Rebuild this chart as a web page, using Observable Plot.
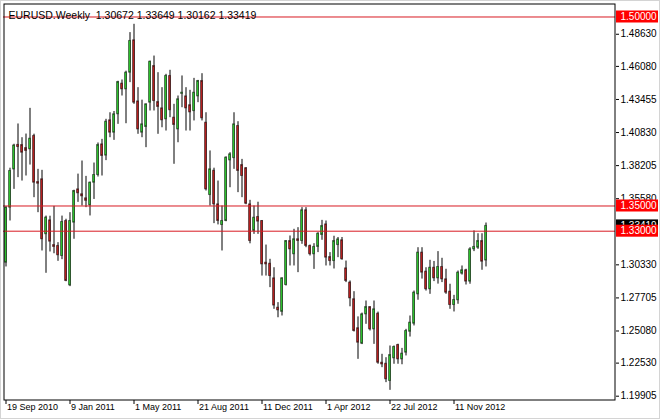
<!DOCTYPE html>
<html><head><meta charset="utf-8">
<script src="https://cdn.jsdelivr.net/npm/d3@7"></script>
<script src="https://cdn.jsdelivr.net/npm/@observablehq/plot@0.6"></script>
<style>
html,body{margin:0;padding:0;background:#fff;}
#chart{width:660px;height:419px;position:relative;overflow:hidden;}
#chart svg{display:block;}
#chart::after{content:"";position:absolute;left:0;top:0;right:0;bottom:0;border:1px solid #d4d4d4;pointer-events:none;}
</style></head><body><div id="chart"></div>
<script>
const symbol = "EURUSD.Weekly";
const firstWeek = "2010-09-19";
const open = [1.3050,1.3487,1.3790,1.3985,1.3984,1.3960,1.3950,1.4056,1.3690,1.3712,
1.3276,1.3386,1.3190,1.3183,1.3103,1.3381,1.2870,1.3368,1.3632,1.3593,
1.3561,1.3505,1.3685,1.3746,1.3989,1.3900,1.4180,1.4082,1.4228,1.4471,
1.4426,1.4558,1.4815,1.4330,1.4082,1.4127,1.4320,1.4611,1.4325,1.4275,
1.4188,1.4532,1.4201,1.4108,1.4390,1.4370,1.4300,1.4253,1.4370,1.4492,
1.4161,1.3587,1.3780,1.3513,1.3349,1.3381,1.3862,1.3880,1.4135,1.3825,
1.3800,1.3513,1.3302,1.3413,1.3381,1.3050,1.3042,1.2926,1.2693,1.2660,
1.2873,1.3222,1.3117,1.3236,1.3222,1.3466,1.3183,1.3117,1.3175,1.3270,
1.3354,1.3095,1.3063,1.3190,1.3228,1.3005,1.2892,1.2760,1.2530,1.2407,
1.2640,1.2698,1.2521,1.2645,1.2256,1.2248,1.2111,1.2291,1.2397,1.2283,
1.2336,1.2502,1.2566,1.2799,1.3130,1.2979,1.2839,1.3010,1.2926,1.3016,
1.2918,1.2820,1.2714,1.2752,1.2963,1.2990,1.2900,1.3156,1.3169,1.3222,
1.30672];
const high = [1.3495,1.3800,1.3990,1.4151,1.4042,1.4071,1.4275,1.4070,1.3791,1.3783,
1.3420,1.3419,1.3497,1.3209,1.3420,1.3395,1.3447,1.3625,1.3753,1.3857,
1.3735,1.3690,1.3841,1.4000,1.4029,1.4188,1.4240,1.4250,1.4490,1.4500,
1.4570,1.4876,1.4942,1.4439,1.4340,1.4310,1.4650,1.4690,1.4558,1.4439,
1.4545,1.4577,1.4307,1.4373,1.4532,1.4439,1.4418,1.4513,1.4497,1.4550,
1.4240,1.3937,1.3800,1.3698,1.3500,1.3890,1.3923,1.4240,1.4169,1.3870,
1.3805,1.3545,1.3500,1.3530,1.3385,1.3190,1.3077,1.3010,1.2733,1.2930,
1.3225,1.3262,1.3315,1.3328,1.3487,1.3487,1.3190,1.3201,1.3288,1.3386,
1.3381,1.3130,1.3260,1.3250,1.3250,1.3063,1.2905,1.2820,1.2620,1.2650,
1.2746,1.2700,1.2746,1.2658,1.2323,1.2296,1.2389,1.2389,1.2403,1.2370,
1.2521,1.2627,1.2825,1.3169,1.3169,1.3010,1.3069,1.3060,1.3138,1.3085,
1.2998,1.2879,1.2791,1.2984,1.3024,1.2998,1.3169,1.3302,1.3280,1.3280,
1.33649];
const low = [1.3016,1.3381,1.3632,1.3725,1.3698,1.3738,1.3825,1.3566,1.3447,1.3143,
1.2966,1.3135,1.3121,1.3061,1.3074,1.2899,1.2860,1.3236,1.3529,1.3500,
1.3487,1.3421,1.3552,1.3730,1.3738,1.3860,1.4042,1.4021,1.4148,1.4373,
1.4153,1.4479,1.4307,1.4069,1.4042,1.3963,1.4254,1.4254,1.4069,1.4121,
1.4095,1.4201,1.3831,1.4002,1.4280,1.4095,1.4095,1.4175,1.4320,1.4175,
1.3619,1.3500,1.3360,1.3350,1.3143,1.3375,1.3645,1.3791,1.3606,1.3566,
1.3510,1.3200,1.3275,1.3275,1.2944,1.2944,1.2852,1.2680,1.2613,1.2627,
1.2865,1.3024,1.3024,1.2971,1.3196,1.3169,1.3103,1.2997,1.3130,1.3228,
1.3024,1.3024,1.3000,1.3090,1.3070,1.2892,1.2700,1.2500,1.2283,1.2400,
1.2561,1.2508,1.2402,1.2244,1.2217,1.2098,1.2037,1.2244,1.2244,1.2240,
1.2310,1.2460,1.2548,1.2752,1.2920,1.2825,1.2799,1.2900,1.2880,1.2892,
1.2799,1.2680,1.2659,1.2720,1.2952,1.2873,1.2879,1.3138,1.3156,1.2990,
1.30162];
const close = [1.3487,1.3778,1.3980,1.3968,1.3923,1.3937,1.4034,1.3685,1.3677,1.3236,
1.3408,1.3217,1.3175,1.3109,1.3373,1.2905,1.3381,1.3619,1.3601,1.3577,
1.3541,1.3685,1.3746,1.3984,1.3897,1.4169,1.4082,1.4228,1.4484,1.4426,
1.4558,1.4810,1.4320,1.4108,1.4148,1.4307,1.4645,1.4333,1.4286,1.4180,
1.4532,1.4260,1.4143,1.4347,1.4399,1.4275,1.4243,1.4399,1.4492,1.4196,
1.3632,1.3791,1.3513,1.3381,1.3381,1.3884,1.3910,1.4148,1.3778,1.3738,
1.3518,1.3222,1.3407,1.3376,1.3037,1.3037,1.2944,1.2710,1.2672,1.2926,
1.3222,1.3156,1.3236,1.3222,1.3466,1.3183,1.3117,1.3175,1.3280,1.3341,
1.3090,1.3063,1.3222,1.3235,1.3077,1.2905,1.2767,1.2508,1.2415,1.2640,
1.2698,1.2521,1.2680,1.2256,1.2243,1.2125,1.2317,1.2381,1.2283,1.2328,
1.2508,1.2574,1.2812,1.3130,1.2971,1.2839,1.3010,1.2926,1.3016,1.2918,
1.2812,1.2714,1.2754,1.2971,1.2990,1.2900,1.3156,1.3175,1.3222,1.3058,
1.33419];
const priceTicks = [1.48630,1.46080,1.43455,1.40830,1.38205,1.35580,1.30330,1.27705,1.25080,1.22530,1.19905];
const levels = [1.50000,1.35000,1.33000];
const dateLabels = ["19 Sep 2010","9 Jan 2011","1 May 2011","21 Aug 2011","11 Dec 2011","1 Apr 2012","22 Jul 2012","11 Nov 2012"];

const WEEK = 7 * 864e5;
const t0 = new Date(firstWeek + "T00:00:00Z");
const candles = open.map((o, i) => ({
  date: d3.utcWeek.offset(t0, i), open: o, high: high[i], low: low[i], close: close[i]
}));
const parseLabel = d3.utcParse("%d %b %Y");
const xStart = new Date(+t0 - 0.625 * WEEK);
const xEnd = new Date(+t0 + 152.375 * WEEK);
const yDomain = [1.195635, 1.510714];
const last = candles[candles.length - 1];
const header = `${symbol}\u00a0 ${last.open.toFixed(5)} ${last.high.toFixed(5)} ${last.low.toFixed(5)} ${last.close.toFixed(5)}`;
const bull = "#2cc02c", bear = "#b41e1e", lineRed = "#d81a22";

const chart = Plot.plot({
  width: 660, height: 419,
  marginLeft: 3, marginRight: 45, marginTop: 3, marginBottom: 19,
  style: {fontFamily: "'Liberation Sans', Arial, sans-serif", fontSize: "10px", background: "#fff", overflow: "visible"},
  x: {type: "utc", domain: [xStart, xEnd], axis: null},
  y: {domain: yDomain, axis: null},
  color: {type: "identity"},
  marks: [
    Plot.ruleX(candles, {x: "date", y1: "low", y2: "high", stroke: "#000", strokeWidth: 1}),
    Plot.rect(candles, {
      x1: d => new Date(+d.date - WEEK / 4), x2: d => new Date(+d.date + WEEK / 4),
      y1: "open", y2: "close",
      fill: d => d.close >= d.open ? bull : bear, stroke: "#000", strokeOpacity: 0.45, strokeWidth: 1
    }),
    Plot.ruleY(levels, {y: d => d, stroke: lineRed, strokeWidth: 1}),
    Plot.frame({stroke: "#000", insetLeft: 0.5, insetTop: 0.5, insetRight: 0.5, insetBottom: 0.5}),
    Plot.axisY(priceTicks, {anchor: "right", tickSize: 3, tickPadding: 2, tickFormat: d => d.toFixed(5), label: null, fill: "#000", stroke: "#000"}),
    Plot.tickX(dateLabels, {x: d => parseLabel(d), insetTop: 397, insetBottom: -4, stroke: "#000"}),
    Plot.text(dateLabels, {x: d => parseLabel(d), frameAnchor: "bottom", dy: 9, dx: 1, textAnchor: "start", text: d => d, fill: "#000", fontSize: 9}),
    Plot.text([header], {frameAnchor: "top-left", dx: 5, dy: 8.5, textAnchor: "start", text: d => d, fill: "#000", fontSize: 10.5}),
    Plot.rect([last], {x1: () => xEnd, x2: () => xEnd, y1: "close", y2: "close", insetLeft: 1, insetRight: -43, insetTop: -6, insetBottom: -6, fill: "#000"}),
    Plot.text([last], {x: () => xEnd, y: "close", text: d => d.close.toFixed(5), dx: 5, textAnchor: "start", fill: "#fff"}),
    Plot.rect(levels, {x1: () => xEnd, x2: () => xEnd, y1: d => d, y2: d => d, insetLeft: 1, insetRight: -43, insetTop: -6, insetBottom: -6, fill: "#ff0000"}),
    Plot.text(levels, {x: () => xEnd, y: d => d, text: d => d.toFixed(5), dx: 5, textAnchor: "start", fill: "#fff"})
  ]
});
document.getElementById("chart").appendChild(chart);
</script></body></html>
